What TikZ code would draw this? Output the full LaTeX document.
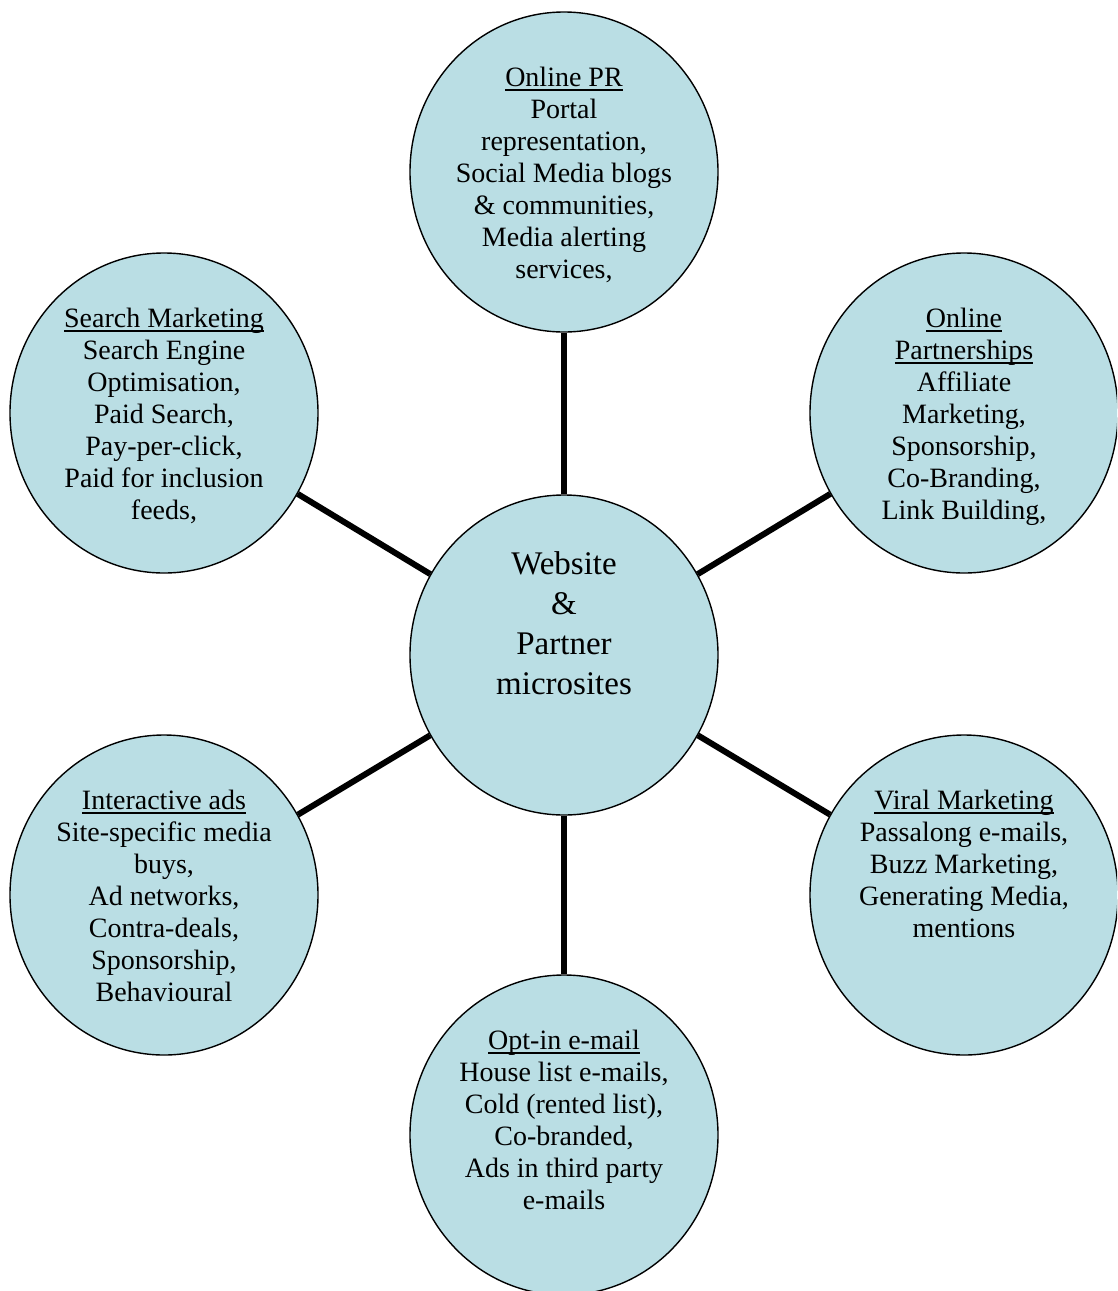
\documentclass[tikz,border=0pt]{standalone}
\usepackage{fontspec}
\setmainfont{Liberation Serif}
\usetikzlibrary{shapes.geometric}
\definecolor{bubfill}{RGB}{186,222,228}
\newcommand\ulx[1]{\setbox0\hbox{#1}\rlap{\rule[-4pt]{\wd0}{1.4pt}}\box0}
\tikzset{
  bub/.style={ellipse, draw=black, line width=1.4pt, fill=bubfill,
    minimum width=308pt, minimum height=320pt, inner sep=0pt},
  txt/.style={anchor=north, align=center, inner sep=0pt,
    font=\fontsize{28}{32}\selectfont},
  bigtxt/.style={anchor=north, align=center, inner sep=0pt,
    font=\fontsize{33}{40}\selectfont},
  link/.style={line width=6pt, black}
}
\begin{document}
\begin{tikzpicture}[x=1pt,y=-1pt]
\useasboundingbox (0,0) rectangle (1117,1291);
\clip (0,0) rectangle (1117,1291);
\node[bub] (c) at (564,655) {};
\node[bub] (pr) at (564,172) {};
\node[bub] (sm) at (164,413) {};
\node[bub] (op) at (964,413) {};
\node[bub] (ia) at (164,895) {};
\node[bub] (vm) at (964,895) {};
\node[bub] (oe) at (564,1135) {};
\draw[link] (c) -- (pr);
\draw[link] (c) -- (sm);
\draw[link] (c) -- (op);
\draw[link] (c) -- (ia);
\draw[link] (c) -- (vm);
\draw[link] (c) -- (oe);
\node[bigtxt] (ct) at ([yshift=104pt]c.center) {Website\\\&\\Partner\\microsites};
\node[txt] (prt) at ([yshift=105pt]pr.center) {\ulx{Online PR}\\Portal\\representation,\\Social Media blogs\\\& communities,\\Media alerting\\services,};
\node[txt] (smt) at ([yshift=105pt]sm.center) {\ulx{Search Marketing}\\Search Engine\\Optimisation,\\Paid Search,\\Pay-per-click,\\Paid for inclusion\\feeds,};
\node[txt] (opt) at ([yshift=105pt]op.center) {\ulx{Online}\\\ulx{Partnerships}\\Affiliate\\Marketing,\\Sponsorship,\\Co-Branding,\\Link Building,};
\node[txt] (iat) at ([yshift=105pt]ia.center) {\ulx{Interactive ads}\\Site-specific media\\buys,\\Ad networks,\\Contra-deals,\\Sponsorship,\\Behavioural};
\node[txt] (vmt) at ([yshift=105pt]vm.center) {\ulx{Viral Marketing}\\Passalong e-mails,\\Buzz Marketing,\\Generating Media,\\mentions};
\node[txt] (oet) at ([yshift=105pt]oe.center) {\ulx{Opt-in e-mail}\\House list e-mails,\\Cold (rented list),\\Co-branded,\\Ads in third party\\e-mails};
\end{tikzpicture}
\end{document}
